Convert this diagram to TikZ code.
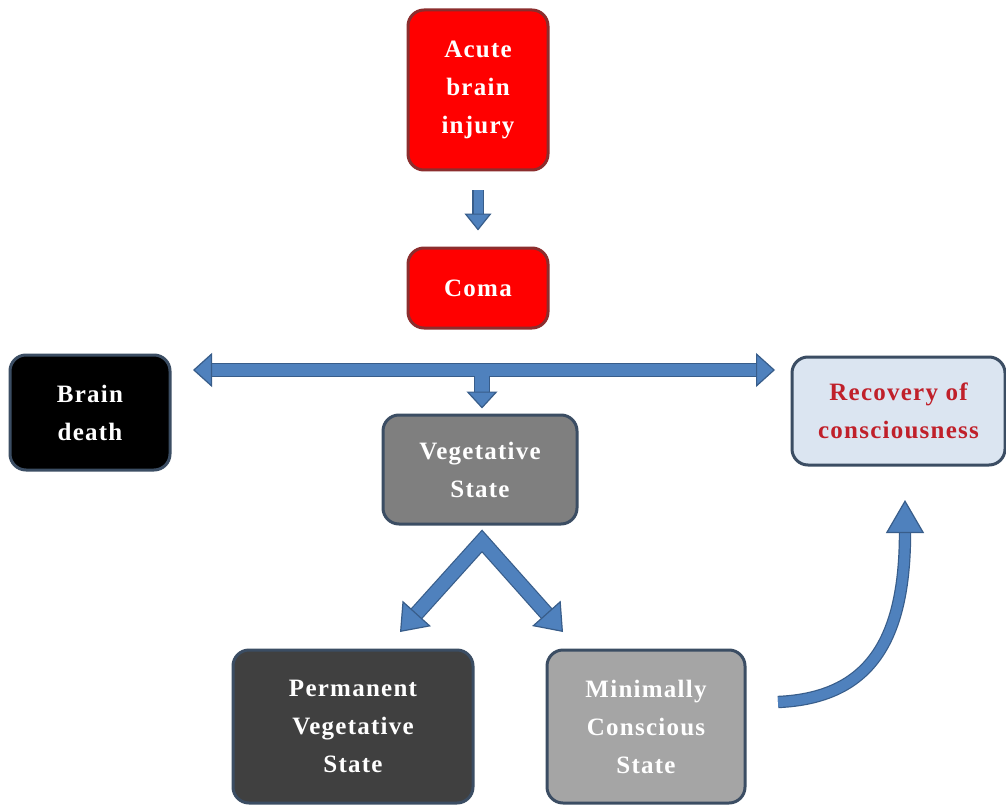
\documentclass[tikz,border=0pt]{standalone}
\usepackage{fontspec}
\setmainfont{Liberation Serif}[LetterSpace=5]
\usetikzlibrary{arrows.meta}
\definecolor{arrowfill}{HTML}{4F81BD}
\definecolor{arrowline}{HTML}{385D8A}
\definecolor{redbox}{HTML}{FF0000}
\definecolor{redline}{HTML}{8C2D2D}
\definecolor{slate}{HTML}{3B4D63}
\definecolor{recfill}{HTML}{DBE5F1}
\definecolor{rectext}{HTML}{C0202A}
\definecolor{vegfill}{HTML}{7F7F7F}
\definecolor{pvsfill}{HTML}{404040}
\definecolor{mcsfill}{HTML}{A5A5A5}
\begin{document}
\begin{tikzpicture}[x=1pt,y=-1pt,
  box/.style={rounded corners=16pt, line width=3pt, align=center,
    font=\fontsize{25}{38}\selectfont\bfseries, text=white, inner sep=0pt},
  blockarrow/.style={draw=arrowline, line width=1.2pt, double=arrowfill, double distance=#1},
]
\useasboundingbox (0,0) rectangle (1006,805);
\fill[white] (0,0) rectangle (1006,805);

\node[box, fill=redbox, draw=redline, minimum width=140pt, minimum height=160pt] (abi) at (478,90) {Acute\\brain\\injury};
\node[box, fill=redbox, draw=redline, minimum width=140pt, minimum height=80pt] (coma) at (478,288) {Coma};
\node[box, fill=black, draw=slate, minimum width=160pt, minimum height=115pt] (bd) at (90,412.5) {Brain\\death};
\node[box, fill=recfill, draw=slate, text=rectext, minimum width=213pt, minimum height=108pt] (rec) at (898.5,411) {Recovery of\\consciousness};
\node[box, fill=vegfill, draw=slate, minimum width=194pt, minimum height=109pt] (vs) at (480,469.5) {Vegetative\\State};
\node[box, fill=pvsfill, draw=slate, minimum width=240pt, minimum height=153pt] (pvs) at (353,726.5) {Permanent\\Vegetative\\State};
\node[box, fill=mcsfill, draw=slate, minimum width=198pt, minimum height=153pt] (mcs) at (646,726.5) {Minimally\\Conscious\\State};

% arrows
\draw[blockarrow=9pt, -{Triangle[width=27pt,length=17pt,line width=1.2pt,fill=arrowfill,color=arrowline]}]
  ([yshift=-19pt]abi.south) -- ([yshift=16pt]coma.north);

\coordinate (hl) at (193,370);
\coordinate (hr) at (775,370);
\draw[blockarrow=12pt,
  {Triangle[width=34pt,length=19pt,line width=1.2pt,fill=arrowfill,color=arrowline]}-{Triangle[width=34pt,length=19pt,line width=1.2pt,fill=arrowfill,color=arrowline]}]
  (hl) -- (hr);

\coordinate (hj) at (482,375.5);
\draw[blockarrow=14pt, -{Triangle[width=31pt,length=17pt,line width=1.2pt,fill=arrowfill,color=arrowline]}]
  (hj) -- ([yshift=5pt]vs.north -| hj);

\coordinate (vl) at (400,632);
\coordinate (va) at (482,541);
\coordinate (vr) at (563,632);
\draw[blockarrow=13pt, line join=miter,
  {Triangle[width=38pt,length=25pt,line width=1.2pt,fill=arrowfill,color=arrowline]}-{Triangle[width=38pt,length=25pt,line width=1.2pt,fill=arrowfill,color=arrowline]}]
  (vl) -- (va) -- (vr);

\coordinate (cs) at (778,702);
\coordinate (ce) at (905,500);
\draw[blockarrow=10pt, -{Triangle[width=38pt,length=33pt,line width=1.2pt,fill=arrowfill,color=arrowline]}]
  (cs) .. controls (870,698) and (905,640) .. (ce);
\end{tikzpicture}
\end{document}
